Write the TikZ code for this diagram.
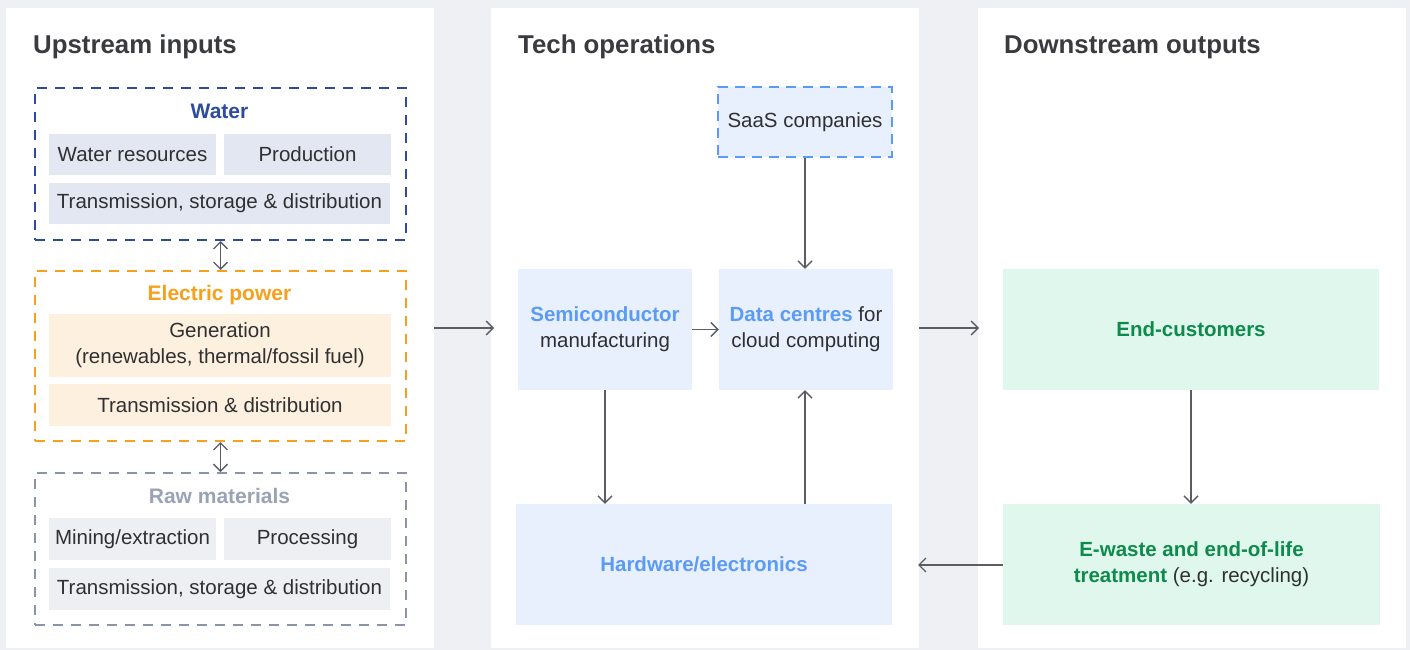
\documentclass[tikz,border=0pt]{standalone}
\usepackage{fontspec}
\setmainfont{Liberation Sans}
\usetikzlibrary{arrows.meta,calc}
\definecolor{bgc}{HTML}{EEF0F4}
\definecolor{txt}{HTML}{2F3033}
\definecolor{ttl}{HTML}{3A3B3E}
\definecolor{waterc}{HTML}{2E4C9E}
\definecolor{waterf}{HTML}{E3E7F2}
\definecolor{elecc}{HTML}{F7A01D}
\definecolor{elecf}{HTML}{FEF0DE}
\definecolor{rawc}{HTML}{8C94A8}
\definecolor{rawt}{HTML}{9AA3B6}
\definecolor{rawf}{HTML}{EEEFF3}
\definecolor{arrc}{HTML}{5A5D66}
\definecolor{bluef}{HTML}{E8F0FD}
\definecolor{bluet}{HTML}{5B9BF5}
\definecolor{greenf}{HTML}{DFF7EC}
\definecolor{greent}{HTML}{0E8A4C}
\newcommand\bodyf{\fontsize{20.5}{26}\selectfont}
\newcommand\lblf{\fontsize{21}{26}\selectfont\bfseries}
\newcommand\ttlf{\fontsize{25.8}{30}\selectfont\bfseries}
\tikzset{
  panel/.style={fill=white, draw=none, anchor=north west, inner sep=0pt},
  cell/.style={fill=#1, draw=none, inner sep=0pt, text=txt, font=\bodyf, align=center},
  dbox/.style={draw=#1, line width=2pt, dash pattern=on 10pt off 8pt, fill=none, inner sep=0pt, anchor=north west},
  grouplabel/.style={font=\lblf, anchor=base, text=#1},
  ttlnode/.style={font=\ttlf, text=ttl, anchor=base west, inner sep=0pt},
  conn/.style={draw=arrc, line width=1.3pt, -{Straight Barb[length=7pt,width=14pt]}},
  dconn/.style={draw=arrc, line width=1.3pt, {Straight Barb[length=7pt,width=14pt]}-{Straight Barb[length=7pt,width=14pt]}},
}
\begin{document}
\begin{tikzpicture}[x=1pt,y=-1pt]
\fill[bgc] (0,0) rectangle (1410,650);
\useasboundingbox (0,0) rectangle (1410,650);
% panels
\node[panel, minimum width=428pt, minimum height=640pt] (p1) at (6,8) {};
\node[panel, minimum width=428pt, minimum height=640pt] (p2) at (491,8) {};
\node[panel, minimum width=428pt, minimum height=640pt] (p3) at (978,8) {};
\node[ttlnode] (t1) at (33,54) {Upstream inputs};
\node[ttlnode] (t2) at (518,54) {Tech operations};
\node[ttlnode] (t3) at (1004,54) {Downstream outputs};
% water group
\node[dbox=waterc, minimum width=371pt, minimum height=152pt] (wbox) at (34,87) {};
\node[grouplabel=waterc] (wlab) at (219.5,118) {Water};
\node[cell=waterf, minimum width=167pt, minimum height=41pt] (wres) at (132.5,154.5) {Water resources};
\node[cell=waterf, minimum width=167pt, minimum height=41pt] (wprod) at (307.5,154.5) {Production};
\node[cell=waterf, minimum width=341pt, minimum height=41pt] (wtrans) at (219.5,203.5) {Transmission, storage \& distribution};
% electric group
\node[dbox=elecc, minimum width=371pt, minimum height=170pt] (ebox) at (34,270) {};
\node[grouplabel=elecc] (elab) at (219.5,300) {Electric power};
\node[cell=elecf, minimum width=342pt, minimum height=63pt] (egen) at (220,345.5) {Generation\\(renewables, thermal/fossil fuel)};
\node[cell=elecf, minimum width=342pt, minimum height=42pt] (etd) at (220,405) {Transmission \& distribution};
% raw group
\node[dbox=rawc, minimum width=371pt, minimum height=152pt] (rbox) at (34,472) {};
\node[grouplabel=rawt] (rlab) at (219.5,503) {Raw materials};
\node[cell=rawf, minimum width=167pt, minimum height=42pt] (rmin) at (132.5,539) {Mining/extraction};
\node[cell=rawf, minimum width=167pt, minimum height=42pt] (rproc) at (307.5,539) {Processing};
\node[cell=rawf, minimum width=341pt, minimum height=42pt] (rtrans) at (219.5,589) {Transmission, storage \& distribution};
\draw[dconn] (wbox.south) -- (ebox.north);
\draw[dconn] (ebox.south) -- (rbox.north);
% tech operations
\node[cell=bluef, draw=bluet, line width=2pt, dash pattern=on 10pt off 7pt, minimum width=174pt, minimum height=70pt] (saas) at (805,122) {SaaS companies};
\node[cell=bluef, minimum width=174pt, minimum height=121pt] (semi) at (605,329.5) {\textcolor{bluet}{\bfseries Semiconductor}\\manufacturing};
\node[cell=bluef, minimum width=174pt, minimum height=121pt] (data) at (806,329.5) {\textcolor{bluet}{\bfseries Data centres} for\\cloud computing};
\node[cell=bluef, minimum width=376pt, minimum height=121pt] (hw) at (704,564.5) {\textcolor{bluet}{\bfseries Hardware/electronics}};
% downstream
\node[cell=greenf, minimum width=376pt, minimum height=121pt] (endc) at (1191,329.5) {\textcolor{greent}{\bfseries End-customers}};
\node[cell=greenf, minimum width=377pt, minimum height=121pt] (ew) at (1191.5,564.5) {\textcolor{greent}{\bfseries E-waste and end-of-life}\\\textcolor{greent}{\bfseries treatment} (e.g. recycling)};
% connectors
\coordinate (c1) at (494,328);
\coordinate (c2) at (979,328);
\coordinate (c3) at (918,565);
\draw[conn] (p1.east |- c1) -- (c1);
\draw[conn] (p2.east |- c2) -- (c2);
\draw[conn] (semi.east) -- (data.west);
\draw[conn] (saas.south) -- (saas.south |- data.north);
\draw[conn] (semi.south) -- (semi.south |- hw.north);
\draw[conn] (saas.south |- hw.north) -- (saas.south |- data.south);
\draw[conn] (endc.south) -- (endc.south |- ew.north);
\draw[conn] (ew.west |- c3) -- (c3);
\end{tikzpicture}
\end{document}
